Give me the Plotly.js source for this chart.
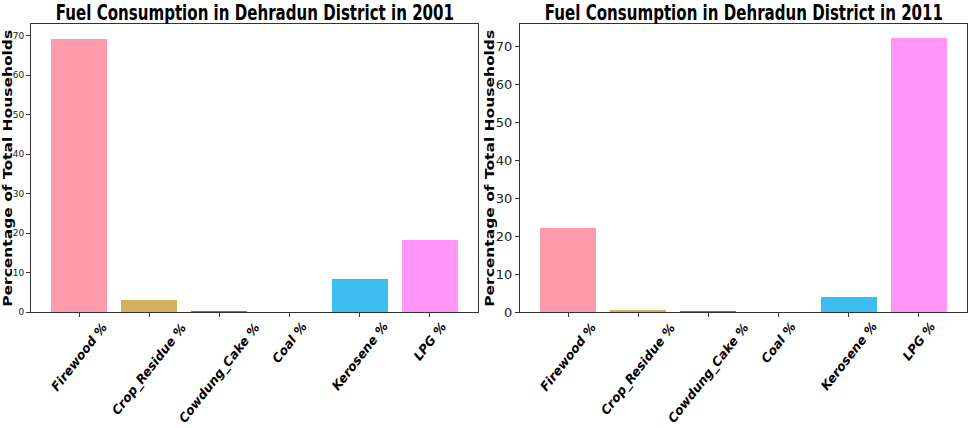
<!DOCTYPE html>
<html>
<head>
<meta charset="utf-8">
<script src="https://cdn.plot.ly/plotly-3.0.1.min.js"></script>
<style>html,body{margin:0;padding:0;background:#fff;}#chart{width:969px;height:428px;}</style>
</head>
<body>
<div id="chart"></div>
<script>
var categories = ["Firewood %", "Crop_Residue %", "Cowdung_Cake %", "Coal %", "Kerosene %", "LPG %"];
var values2001 = [69.3, 3.0, 0.2, 0.0, 8.3, 18.3];
var values2011 = [22.1, 0.4, 0.2, 0.0, 4.0, 72.4];
var barColors = ["#ff9aac", "#d4b060", "#3a9a3a", "#36ada4", "#3cbef0", "#ff96f8"];
var yTicks2001 = [0, 10, 20, 30, 40, 50, 60, 70];
var yTicks2011 = [0, 10, 20, 30, 40, 50, 60, 70];
var titles = ["Fuel Consumption in Dehradun District in 2001", "Fuel Consumption in Dehradun District in 2011"];
var yTitle = "Percentage of Total Households";

var fam = "DejaVu Sans, sans-serif";
var xs = categories.map(function(c, i){ return i; });

var traces = [
  {type:"bar", x: xs, y: values2001, marker:{color: barColors, line:{width:0}}, width:0.8, xaxis:"x", yaxis:"y", hoverinfo:"none"},
  {type:"bar", x: xs, y: values2011, marker:{color: barColors, line:{width:0}}, width:0.8, xaxis:"x2", yaxis:"y2", hoverinfo:"none"}
];

function xAxis(domain, anchor){
  return {domain: domain, anchor: anchor, range:[-0.69, 5.69], tickvals: xs, ticktext: categories.map(function(){return "";}),
    showgrid:false, zeroline:false, showline:true, mirror:true, linecolor:"#333", linewidth:1,
    ticks:"outside", ticklen:4, tickcolor:"#333", fixedrange:true};
}
function yAxis(domain, anchor, maxv, ticks, fs){
  return {domain: domain, anchor: anchor, range:[0, maxv], tickvals: ticks, ticktext: ticks.map(String),
    showgrid:false, zeroline:false, showline:true, mirror:true, linecolor:"#333", linewidth:1,
    ticks:"outside", ticklen:4, tickcolor:"#333", tickfont:{family: fam, size: fs, color:"#222"}, fixedrange:true};
}

var yDom = [1 - 312/428, 1 - 24/428];
var layout = {
  width: 969, height: 428, margin:{l:0, r:0, t:0, b:0}, paper_bgcolor:"#fff", plot_bgcolor:"#fff",
  showlegend:false, bargap:0,
  xaxis: xAxis([31/969, 478/969], "y"),
  yaxis: yAxis(yDom, "x", 73.0, yTicks2001, 9),
  xaxis2: xAxis([520/969, 967/969], "y2"),
  yaxis2: yAxis(yDom, "x2", 76.0, yTicks2011, 13),
  annotations: []
};

var titleX = [254.5/969, 743.5/969];
titles.forEach(function(t, k){
  layout.annotations.push({text: "<b>" + t + "</b>", xref:"paper", yref:"paper", x: titleX[k], y: 1 - 12/428, xanchor:"center", yanchor:"middle",
    showarrow:false, font:{family: fam, size: 22, color:"#000"}});
});
[8/969, 490/969].forEach(function(xp){
  layout.annotations.push({text: "<b>" + yTitle + "</b>", xref:"paper", yref:"paper", x: xp, y: 1 - 169/428, xanchor:"center", yanchor:"middle",
    textangle:-90, showarrow:false, font:{family: fam, size: 15.5, color:"#000"}});
});
["x", "x2"].forEach(function(xr){
  categories.forEach(function(c, i){
    layout.annotations.push({text: "<b><i>" + c + "</i></b>", xref: xr, yref:"paper", x: i, y: 1 - 317/428, xanchor:"center", yanchor:"top",
      textangle:-52, showarrow:false, font:{family: fam, size: 12.5, color:"#000", style:"italic"}});
  });
});

function squeeze(t, sx, sy){
  var bb = t.getBBox();
  var cx = bb.x + bb.width / 2, cy = bb.y + bb.height / 2;
  t.setAttribute("transform", "translate(" + cx + "," + cy + ") scale(" + sx + "," + sy + ") translate(" + (-cx) + "," + (-cy) + ")");
}
Plotly.newPlot("chart", traces, layout, {displayModeBar:false, staticPlot:true}).then(function(gd){
  [0, 1].forEach(function(idx){
    var t = gd.querySelector('.annotation[data-index="' + idx + '"] text.annotation-text');
    if (t) squeeze(t, 0.685, 1);
  });
  [2, 3].forEach(function(idx){
    var t = gd.querySelector('.annotation[data-index="' + idx + '"] text.annotation-text');
    if (t) squeeze(t, 1, 0.8);
  });
});
</script>
</body>
</html>
